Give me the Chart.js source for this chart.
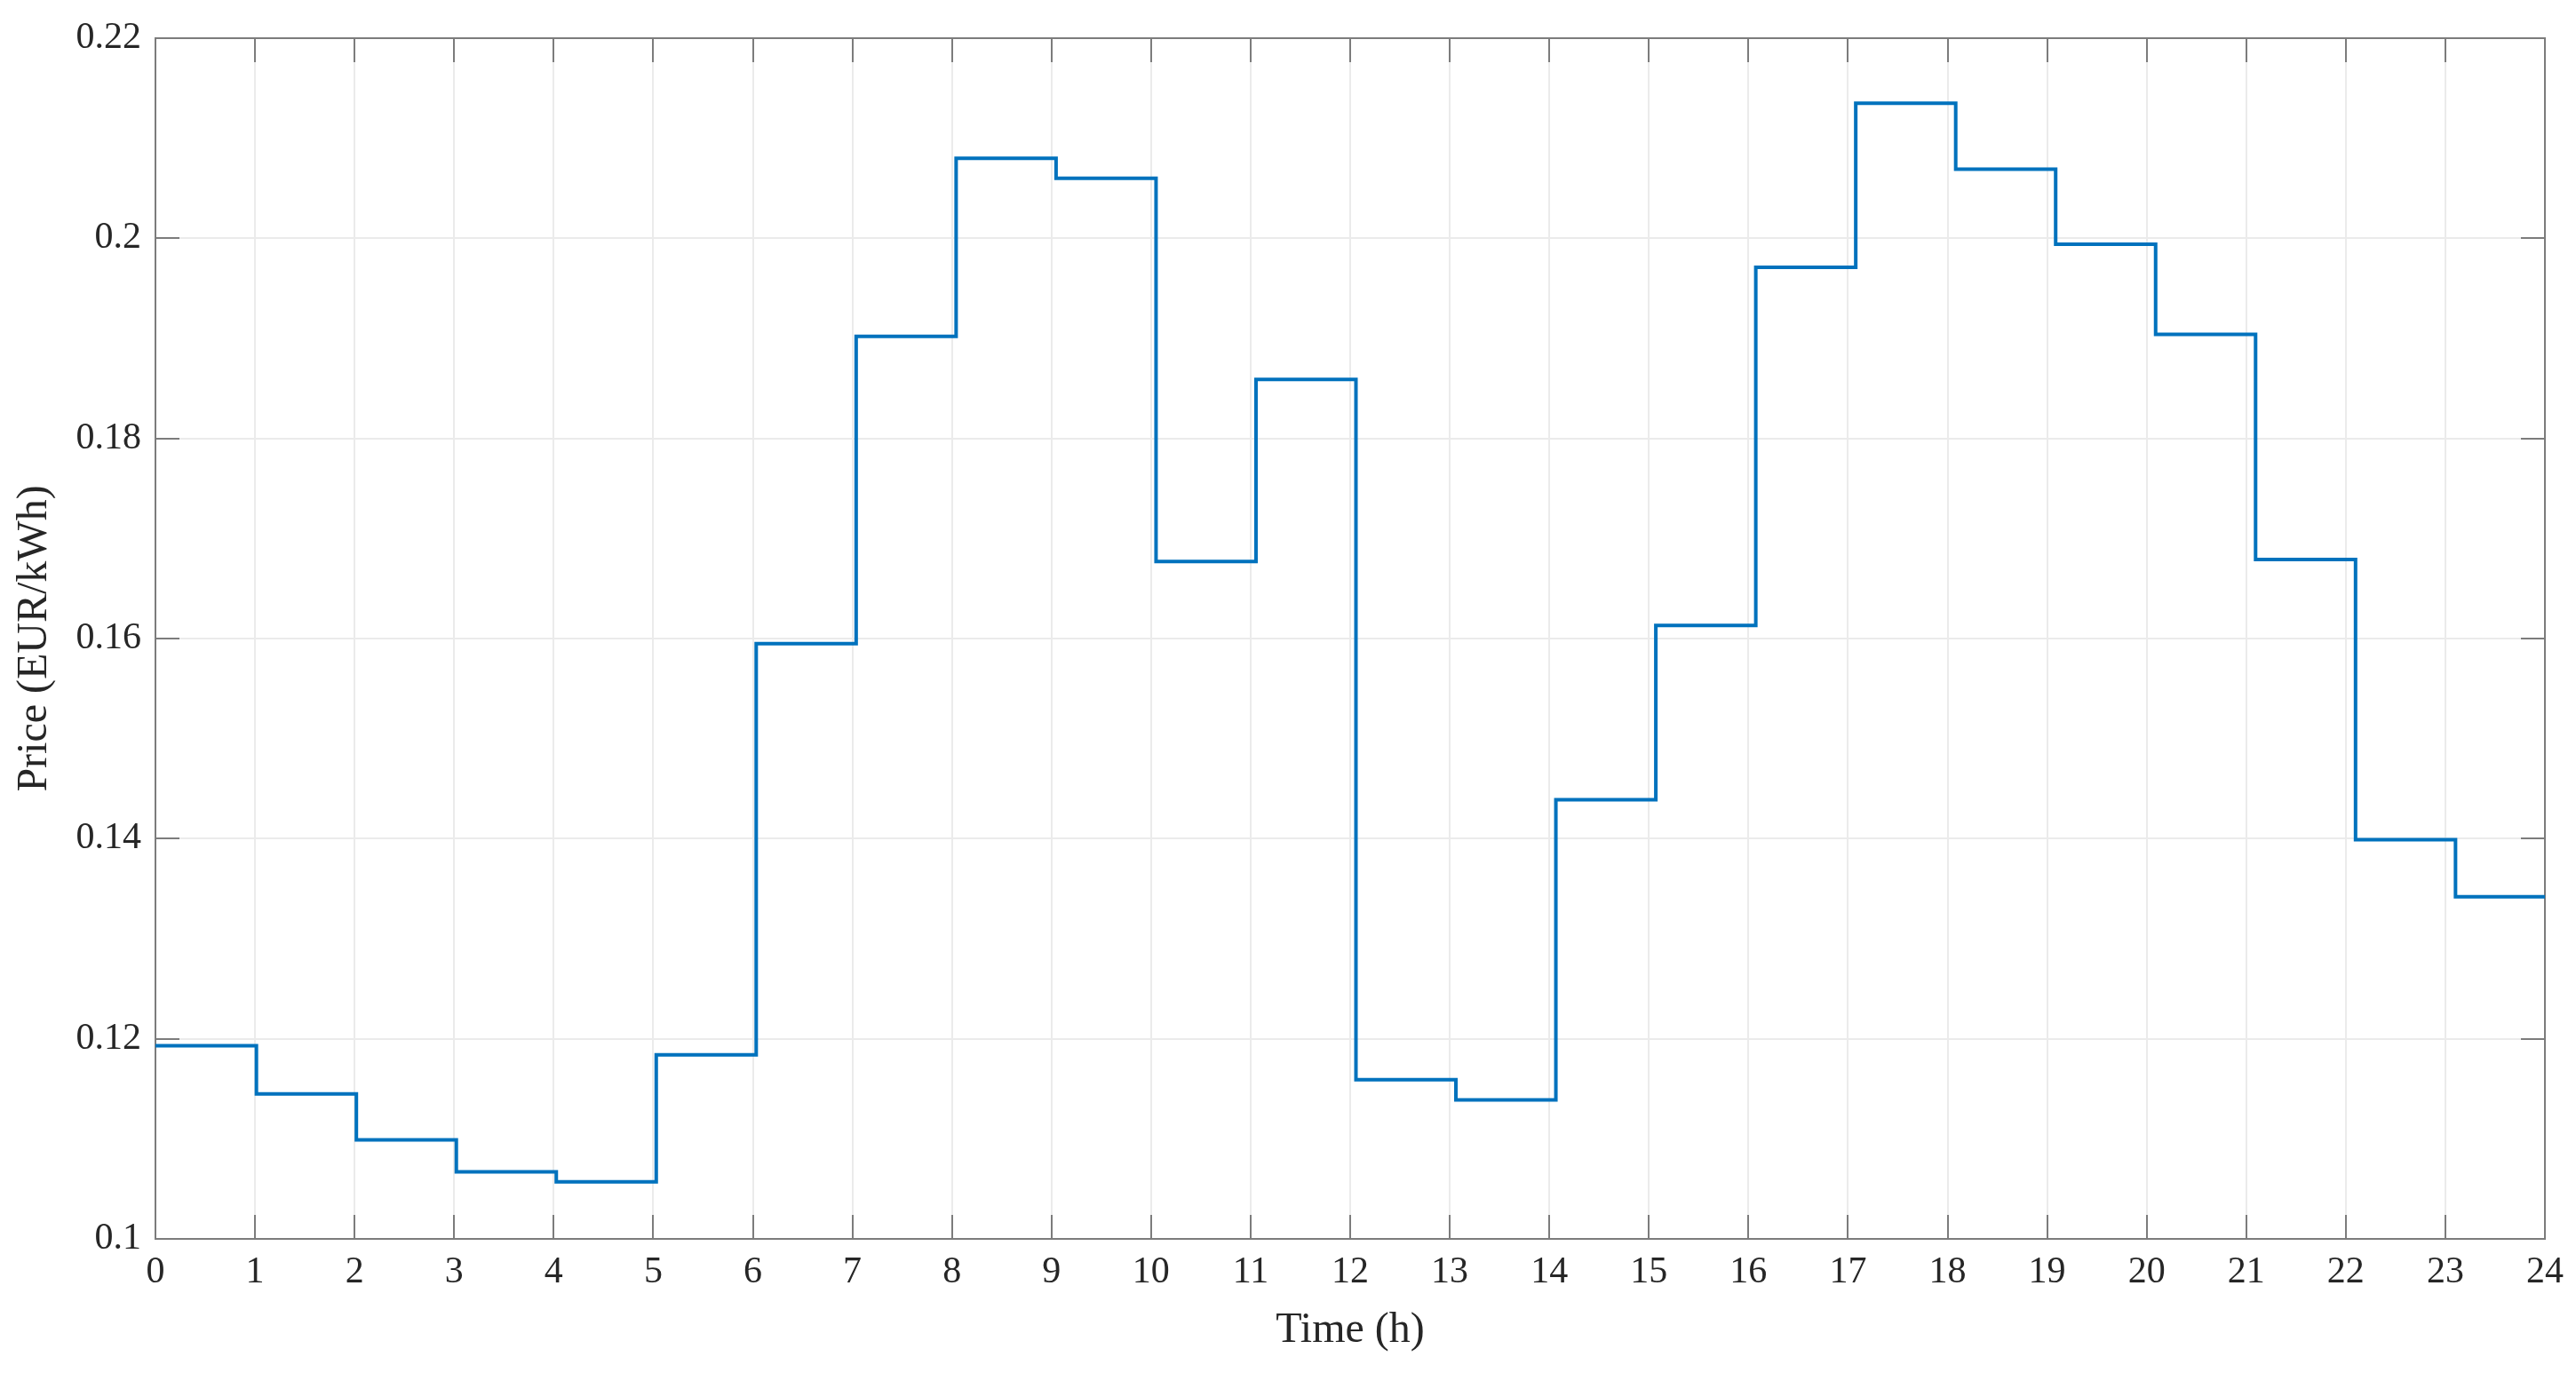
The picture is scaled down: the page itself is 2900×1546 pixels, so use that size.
<!DOCTYPE html>
<html>
<head>
<meta charset="utf-8">
<script src="https://cdn.jsdelivr.net/npm/chart.js@4/dist/chart.umd.min.js"></script>
<style>
  html, body { margin: 0; padding: 0; background: #ffffff; }
  #wrap { width: 2900px; height: 1546px; position: relative; }
</style>
</head>
<body>
<div id="wrap"><canvas id="c" width="2900" height="1546"></canvas></div>
<script>
// ---- data ----
const hours = [0, 1, 2, 3, 4, 5, 6, 7, 8, 9, 10, 11, 12, 13, 14, 15, 16, 17, 18, 19, 20, 21, 22, 23];
const prices = [0.1193, 0.1145, 0.1099, 0.1067, 0.1057, 0.1184, 0.1595, 0.1902, 0.2080, 0.2060,
                0.1677, 0.1859, 0.1159, 0.1139, 0.1439, 0.1613, 0.1971, 0.2135, 0.2069, 0.1994,
                0.1904, 0.1679, 0.1399, 0.1342];
const endHour = 24;
const xTicks = [0, 1, 2, 3, 4, 5, 6, 7, 8, 9, 10, 11, 12, 13, 14, 15, 16, 17, 18, 19, 20, 21, 22, 23, 24];
const yTicks = [0.1, 0.12, 0.14, 0.16, 0.18, 0.2, 0.22];
const yTickLabels = ['0.1', '0.12', '0.14', '0.16', '0.18', '0.2', '0.22'];
const xTitle = 'Time (h)';
const yTitle = 'Price (EUR/kWh)';

// the price changes in the reference occur slightly after each full hour,
// by a delay that grows a little through the day
const stepScale = 1.004;
const stepDelay = 0.01;

const points = hours.map((h, i) => ({ x: i === 0 ? h : h * stepScale + stepDelay, y: prices[i] }));
points.push({ x: endHour, y: prices[prices.length - 1] });

const FONT = "'Liberation Serif', 'Times New Roman', serif";
const AXIS_COLOR = '#7c7c7c';
const TEXT_COLOR = '#262626';
const TICK_LEN = 27;

const framePlugin = {
  id: 'frame',
  beforeDatasetsDraw(chart) {
    const { ctx, chartArea: a, scales } = chart;
    ctx.save();
    ctx.strokeStyle = AXIS_COLOR;
    ctx.lineWidth = 2;
    ctx.beginPath();
    xTicks.forEach(v => {
      const px = Math.round(scales.x.getPixelForValue(v));
      ctx.moveTo(px, a.bottom); ctx.lineTo(px, a.bottom - TICK_LEN);
      ctx.moveTo(px, a.top); ctx.lineTo(px, a.top + TICK_LEN);
    });
    yTicks.forEach(v => {
      const py = Math.round(scales.y.getPixelForValue(v));
      ctx.moveTo(a.left, py); ctx.lineTo(a.left + TICK_LEN, py);
      ctx.moveTo(a.right, py); ctx.lineTo(a.right - TICK_LEN, py);
    });
    ctx.stroke();
    ctx.strokeRect(a.left, a.top, a.right - a.left, a.bottom - a.top);
    ctx.restore();
  }
};

new Chart(document.getElementById('c'), {
  type: 'line',
  data: {
    datasets: [{
      data: points,
      borderColor: '#0072BD',
      borderWidth: 4,
      pointRadius: 0,
      stepped: 'before',
      fill: false,
      clip: 4
    }]
  },
  options: {
    responsive: false,
    animation: false,
    devicePixelRatio: 1,
    layout: { padding: { left: 0, top: 43, right: 35, bottom: 0 } },
    plugins: { legend: { display: false }, tooltip: { enabled: false } },
    scales: {
      x: {
        type: 'linear',
        min: 0, max: endHour,
        afterBuildTicks(scale) { scale.ticks = xTicks.map(v => ({ value: v })); },
        afterFit(scale) { scale.height = 151; },
        grid: { color: '#ebebeb', lineWidth: 2, drawTicks: false },
        border: { display: false },
        ticks: {
          autoSkip: false, maxRotation: 0, padding: 13,
          color: TEXT_COLOR,
          font: { family: FONT, size: 42 },
          callback: v => String(v)
        },
        title: {
          display: true, text: xTitle, color: TEXT_COLOR,
          font: { family: FONT, size: 48 },
          padding: { top: 0, bottom: 19 }
        }
      },
      y: {
        type: 'linear',
        min: yTicks[0], max: yTicks[yTicks.length - 1],
        afterBuildTicks(scale) { scale.ticks = yTicks.map(v => ({ value: v })); },
        afterFit(scale) { scale.width = 175; },
        grid: { color: '#ebebeb', lineWidth: 2, drawTicks: false },
        border: { display: false },
        ticks: {
          autoSkip: false, padding: 16,
          color: TEXT_COLOR,
          font: { family: FONT, size: 42 },
          callback: (v) => {
            const i = yTicks.findIndex(t => Math.abs(t - v) < 1e-9);
            return i >= 0 ? yTickLabels[i] : '';
          }
        },
        title: {
          display: true, text: yTitle, color: TEXT_COLOR,
          font: { family: FONT, size: 48 },
          padding: { top: 11, bottom: 0 }
        }
      }
    }
  },
  plugins: [framePlugin]
});
</script>
</body>
</html>
